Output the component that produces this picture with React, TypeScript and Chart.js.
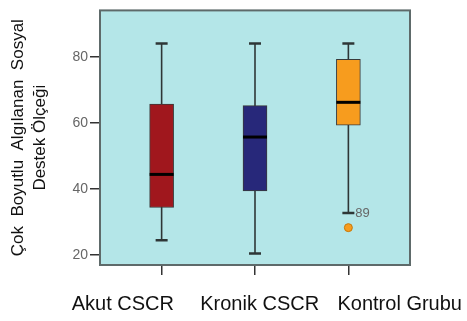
import React, { useEffect, useRef } from "react";
import { Chart, registerables } from "chart.js";

Chart.register(...registerables);

const categories = ["Akut CSCR", "Kronik CSCR", "Kontrol Grubu"];
const positions = [1, 2, 3];
const labelPositions = [0.585, 2.05, 3.55];
const whiskerMin = [24.5, 20.5, 32.7];
const q1 = [34.4, 39.4, 59.3];
const medians = [44.4, 55.7, 66.2];
const q3 = [65.7, 65.2, 79.2];
const whiskerMax = [84, 84, 84];
const boxColors = ["#A0171D", "#27287A", "#F79C1E"];
const outliers = [{ x: 3, y: 28.3, label: "89" }];
const yTicks = [20, 40, 60, 80];
const yTitle = ["Çok  Boyutlu  Algılanan  Sosyal", "Destek Ölçeği"];

const FONT = "'Liberation Sans', Arial, sans-serif";

const boxPlugin = {
  id: "boxParts",
  beforeDraw(chart: any) {
    const { ctx, chartArea } = chart;
    ctx.save();
    ctx.fillStyle = "#B4E6E8";
    ctx.fillRect(chartArea.left, chartArea.top, chartArea.right - chartArea.left, chartArea.bottom - chartArea.top);
    ctx.restore();
  },
  beforeDatasetsDraw(chart: any) {
    const { ctx } = chart;
    const xs = chart.scales.x;
    const ys = chart.scales.y;
    ctx.save();
    ctx.strokeStyle = "#2E3636";
    positions.forEach((p, i) => {
      const x = xs.getPixelForValue(p);
      const yMin = ys.getPixelForValue(whiskerMin[i]);
      const yMax = ys.getPixelForValue(whiskerMax[i]);
      ctx.lineWidth = 1.6;
      ctx.beginPath();
      ctx.moveTo(x, yMin);
      ctx.lineTo(x, yMax);
      ctx.stroke();
      ctx.lineWidth = 2.5;
      ctx.beginPath();
      ctx.moveTo(x - 6, yMin);
      ctx.lineTo(x + 6, yMin);
      ctx.moveTo(x - 6, yMax);
      ctx.lineTo(x + 6, yMax);
      ctx.stroke();
    });
    ctx.restore();
  },
  afterDatasetsDraw(chart: any) {
    const { ctx, chartArea } = chart;
    const xs = chart.scales.x;
    const ys = chart.scales.y;
    ctx.save();
    ctx.strokeStyle = "#000";
    ctx.lineWidth = 3;
    positions.forEach((p, i) => {
      const x = xs.getPixelForValue(p);
      const y = ys.getPixelForValue(medians[i]);
      ctx.beginPath();
      ctx.moveTo(x - 12, y);
      ctx.lineTo(x + 12, y);
      ctx.stroke();
    });
    ctx.fillStyle = "#666";
    ctx.font = "13px " + FONT;
    ctx.textBaseline = "middle";
    ctx.textAlign = "left";
    outliers.forEach((o) => {
      const x = xs.getPixelForValue(o.x);
      const y = ys.getPixelForValue(o.y);
      ctx.fillText(o.label, x + 7, y - 14);
    });
    ctx.strokeStyle = "#5E6A6A";
    ctx.lineWidth = 2;
    ctx.strokeRect(chartArea.left, chartArea.top, chartArea.right - chartArea.left, chartArea.bottom - chartArea.top);
    ctx.restore();
  },
};

export default function App() {
  const canvasRef = useRef<HTMLCanvasElement | null>(null);

  useEffect(() => {
    document.body.style.margin = "0";
    const canvas = canvasRef.current;
    if (!canvas) return;
    const chart = new Chart(canvas, {
      type: "bar",
      data: {
        datasets: [
          {
            type: "bar",
            data: positions.map((p, i) => ({ x: p, y: [q1[i], q3[i]] })) as any,
            backgroundColor: boxColors,
            borderColor: "#3A3A3A",
            borderWidth: 1,
            borderSkipped: false,
            barThickness: 24,
            xAxisID: "x",
            yAxisID: "y",
          } as any,
          {
            type: "scatter",
            data: outliers.map((o) => ({ x: o.x, y: o.y })),
            backgroundColor: "#F79C1E",
            borderColor: "#C87808",
            borderWidth: 1,
            pointRadius: 4,
            xAxisID: "x",
            yAxisID: "y",
          } as any,
        ],
      },
      options: {
        animation: false,
        responsive: false,
        maintainAspectRatio: false,
        layout: { padding: { top: 4, right: 57, left: 0, bottom: 0 } },
        plugins: { legend: { display: false }, tooltip: { enabled: false } },
        scales: {
          x: {
            type: "linear",
            position: "bottom",
            offset: false,
            min: 0.34,
            max: 3.66,
            afterBuildTicks: (s: any) => {
              s.ticks = positions.map((v) => ({ value: v }));
            },
            afterFit: (s: any) => {
              s.height = 10;
              s.paddingLeft = 0;
              s.paddingRight = 0;
            },
            ticks: { callback: () => "", padding: 0, font: { size: 1 } },
            grid: { offset: false, drawOnChartArea: false, tickLength: 10, color: "#333", lineWidth: 1.5 },
            border: { display: false },
          },
          x2: {
            type: "linear",
            position: "bottom",
            offset: false,
            min: 0.34,
            max: 3.66,
            afterBuildTicks: (s: any) => {
              s.ticks = labelPositions.map((v) => ({ value: v }));
            },
            afterFit: (s: any) => {
              s.height = 46;
              s.paddingLeft = 0;
              s.paddingRight = 0;
            },
            ticks: {
              callback: (_v: any, idx: number) => categories[idx],
              font: { family: FONT, size: 20 },
              color: "#111",
              padding: 9,
              maxRotation: 0,
              autoSkip: false,
            },
            grid: { display: false, offset: false },
            border: { display: false },
          },
          y: {
            type: "linear",
            min: 17,
            max: 94,
            afterBuildTicks: (s: any) => {
              s.ticks = yTicks.map((v) => ({ value: v }));
            },
            afterFit: (s: any) => {
              s.width = 100;
            },
            ticks: { font: { family: FONT, size: 14 }, color: "#666", padding: 2 },
            grid: { drawOnChartArea: false, tickLength: 10, color: "#333", lineWidth: 1.5 },
            border: { display: false },
            title: {
              display: true,
              text: yTitle,
              font: { family: FONT, size: 17, lineHeight: 1.25 },
              color: "#111",
              padding: { top: 8, bottom: 0 },
            },
          },
        },
      },
      plugins: [boxPlugin],
    });
    return () => chart.destroy();
  }, []);

  return (
    <div style={{ width: 467, height: 321, position: "relative" }}>
      <canvas ref={canvasRef} width={467} height={321} style={{ width: 467, height: 321 }} />
    </div>
  );
}
